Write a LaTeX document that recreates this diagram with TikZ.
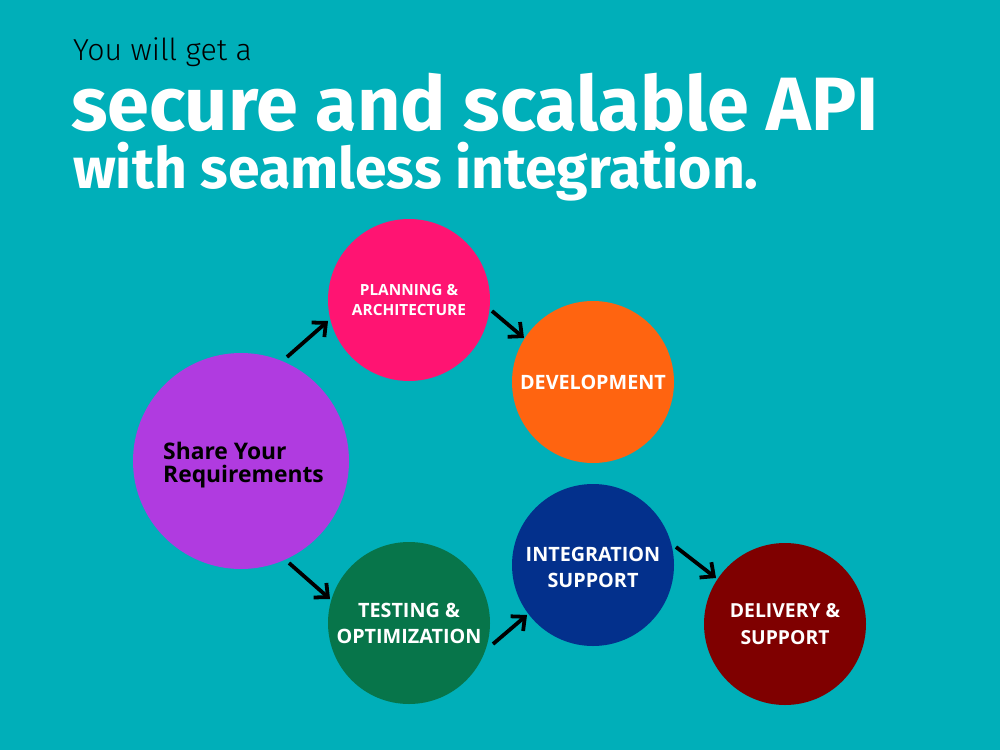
\documentclass[tikz,border=0pt]{standalone}
\usepackage{fontspec}
\setmainfont{Open Sans}
\newfontfamily\headfont{Fira Sans}
\newfontfamily\headfontl{Fira Sans Light}
\usetikzlibrary{arrows.meta}
\definecolor{bgteal}{HTML}{00AFB9}
\definecolor{cpurple}{HTML}{B03BE0}
\definecolor{cpink}{HTML}{FF1472}
\definecolor{corange}{HTML}{FF6410}
\definecolor{cgreen}{HTML}{07754A}
\definecolor{cnavy}{HTML}{03308C}
\definecolor{cmaroon}{HTML}{7F0000}
\tikzset{
  bubble/.style={circle, inner sep=0pt, minimum size=162*0.4mm},
  bigbubble/.style={circle, inner sep=0pt, minimum size=216*0.4mm},
  ctext/.style={text=white, font=\bfseries\fontsize{22.5}{29.5}\selectfont, align=center},
  flow/.style={draw=black, line width=4.3pt, -{Straight Barb[length=12pt,width=22pt,line width=4.3pt]}},
}
\begin{document}
\begin{tikzpicture}[x=0.4mm, y=-0.4mm]
\fill[bgteal] (0,0) rectangle (1000,750);
\useasboundingbox (0,0) rectangle (1000,750);
% headline
\node[anchor=base west, inner sep=0pt, font=\headfontl\fontsize{34.5}{38}\selectfont] (t1) at (73,60) {You will get a};
\node[anchor=base west, inner sep=0pt, text=white, font=\headfont\bfseries\fontsize{86}{90}\selectfont] (t2) at (71,130) {secure and scalable API};
\node[anchor=base west, inner sep=0pt, text=white, font=\headfont\bfseries\fontsize{65}{70}\selectfont] (t3) at (73,188) {with seamless integration.};
% circles
\node[bigbubble, fill=cpurple] (req) at (241,461) {};
\node[anchor=west, inner sep=0pt, align=left, font=\bfseries\fontsize{26}{26}\selectfont] (reqt) at (163,465) {Share Your\\Requirements};
\node[bubble, fill=cpink, ctext, font=\bfseries\fontsize{17.5}{22.7}\selectfont] (plan) at (409,300) {PLANNING \&\\ARCHITECTURE};
\node[bubble, fill=corange, ctext] (dev) at (593,382) {DEVELOPMENT};
\node[bubble, fill=cgreen, ctext] (test) at (409,623) {TESTING \&\\OPTIMIZATION};
\node[bubble, fill=cnavy] (integ) at (593,565) {};
\node[ctext] (integt) at (593,567) {INTEGRATION\\SUPPORT};
\node[bubble, fill=cmaroon, ctext, font=\bfseries\fontsize{22}{30.6}\selectfont] (deliv) at (785,624) {DELIVERY \&\\SUPPORT};
% arrows
\coordinate (a1s) at (287,357); \coordinate (a1e) at (328,321);
\coordinate (a2s) at (492,311); \coordinate (a2e) at (524,338);
\coordinate (a3s) at (289,563); \coordinate (a3e) at (330,599);
\coordinate (a4s) at (493,644); \coordinate (a4e) at (527,615);
\coordinate (a5s) at (676,547); \coordinate (a5e) at (716,578);
\draw[flow] (a1s) -- (a1e);
\draw[flow] (a2s) -- (a2e);
\draw[flow] (a3s) -- (a3e);
\draw[flow] (a4s) -- (a4e);
\draw[flow] (a5s) -- (a5e);
\end{tikzpicture}
\end{document}
